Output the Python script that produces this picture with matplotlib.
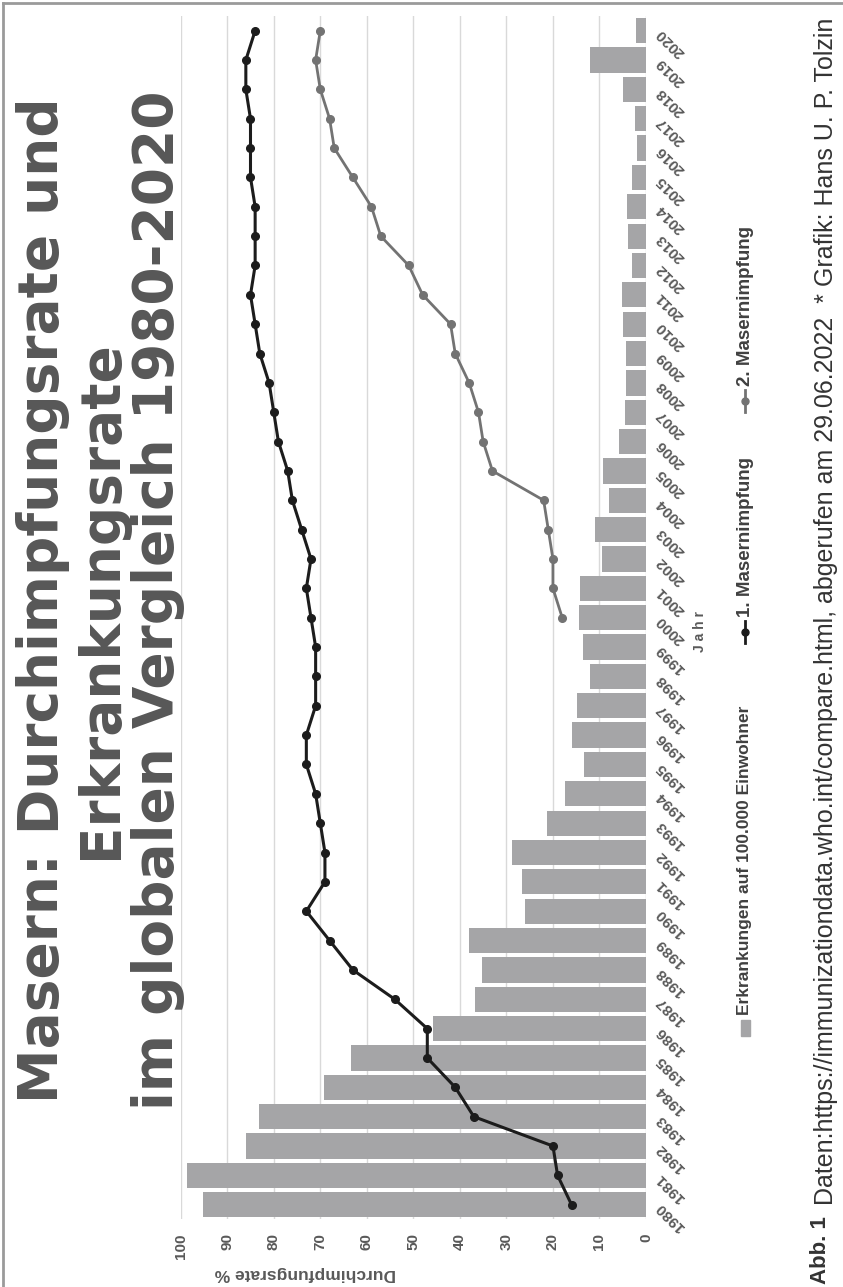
import numpy as np
import matplotlib
matplotlib.use('Agg')
import matplotlib.pyplot as plt
from matplotlib.lines import Line2D
from matplotlib.patches import Rectangle

plt.rcParams['font.family'] = ['Liberation Sans', 'DejaVu Sans']

years = list(range(1980, 2021))
incidence = [95.1, 98.6, 86.0, 83.2, 69.1, 63.4, 45.8, 36.8, 35.3, 38.0,
             26.1, 26.6, 28.7, 21.3, 17.4, 13.4, 15.8, 14.8, 12.0, 13.6,
             14.5, 14.2, 9.5, 11.0, 8.0, 9.3, 5.8, 4.5, 4.3, 4.2,
             5.0, 5.2, 3.1, 3.9, 4.1, 3.0, 1.9, 2.4, 4.9, 12.0, 2.1]
mcv1 = [16, 19, 20, 37, 41, 47, 47, 54, 63, 68,
        73, 69, 69, 70, 71, 73, 73, 71, 71, 71,
        72, 73, 72, 74, 76, 77, 79, 80, 81, 83,
        84, 85, 84, 84, 84, 85, 85, 85, 86, 86, 84]
mcv2 = [None] * 20 + [18, 20, 20, 21, 22, 33, 35, 36, 38, 41,
                      42, 48, 51, 57, 59, 63, 67, 68, 70, 71, 70]
value_ticks = list(range(0, 101, 10))

title_lines = ["Masern: Durchimpfungsrate und", "Erkrankungsrate",
               "im globalen Vergleich 1980-2020"]
legend_labels = ["Erkrankungen auf 100.000 Einwohner", "1. Masernimpfung",
                 "2. Masernimpfung"]
footer = ("Daten:https://immunizationdata.who.int/compare.html, abgerufen am "
          "29.06.2022  * Grafik: Hans U. P. Tolzin")

W, H = 843, 1287
fig = plt.figure(figsize=(W / 100, H / 100), dpi=100)
fig.patch.set_facecolor('white')


def fx(x):
    return x / W


def fy(y):
    return 1 - y / H


BAR = '#a5a5a7'
L1 = '#1c1c1c'
L2 = '#737373'
TXT = '#595959'

ax = fig.add_axes([fx(180.7), fy(1219.4), (646 - 180.7) / W, (1219.4 - 16) / H])
ax.barh(years, incidence, height=0.86, color=BAR, zorder=2)
ax.plot(mcv1, years, color=L1, lw=2.2, marker='o', ms=5.5, zorder=4)
ax.plot(np.array(mcv2, dtype=float), years, color=L2, lw=2.0, marker='o',
        ms=5.5, zorder=3)
ax.set_xlim(100, 0)
ax.set_ylim(1979.5, 2020.5)
ax.set_xticks(value_ticks)
ax.set_xticklabels([str(v) for v in value_ticks], rotation=90, fontsize=11,
                   fontweight='bold', color=TXT)
ax.tick_params(axis='x', length=0, pad=10)
ax.grid(axis='x', color='#d9d9d9', lw=1.0, zorder=0)
for s in ax.spines.values():
    s.set_visible(False)
ax.yaxis.tick_right()
ax.set_yticks(years)
ax.set_yticklabels([str(y) for y in years], rotation=135, rotation_mode='anchor',
                   ha='right', va='center', fontsize=11, fontweight='bold',
                   color=TXT)
ax.tick_params(axis='y', length=0, pad=9)

# axis titles
fig.text(fx(305), fy(1274), "Durchimpfungsrate %", rotation=180, ha='center',
         va='center', fontsize=12.5, fontweight='bold', color=TXT)
fig.text(fx(700), fy(632), "J a h r", rotation=90, ha='center', va='center',
         fontsize=10, fontweight='bold', color=TXT)

# title
for xpos, line in zip([43, 101, 158], title_lines):
    fig.text(fx(xpos), fy(600), line, rotation=90, ha='center', va='center',
             fontsize=39.5, fontweight='bold', color='#575757',
             family='DejaVu Sans')

# legend (manual, rotated)
lx = 745
fig.patches.append(Rectangle((fx(741), fy(1036)), 9 / W, 16 / H,
                             transform=fig.transFigure, color=BAR))
fig.text(fx(lx), fy(1015), legend_labels[0], rotation=90, ha='center',
         va='bottom', fontsize=12.5, fontweight='bold', color='#404040')
fig.lines.append(Line2D([fx(lx), fx(lx)], [fy(643), fy(621)], color=L1, lw=2,
                        transform=fig.transFigure))
fig.lines.append(Line2D([fx(lx)], [fy(632)], color=L1, marker='o', ms=5,
                        transform=fig.transFigure))
fig.text(fx(lx), fy(617), legend_labels[1], rotation=90, ha='center',
         va='bottom', fontsize=13.5, fontweight='bold', color='#404040')
fig.lines.append(Line2D([fx(lx), fx(lx)], [fy(412), fy(390)], color=L2, lw=2,
                        transform=fig.transFigure))
fig.lines.append(Line2D([fx(lx)], [fy(401)], color=L2, marker='o', ms=5,
                        transform=fig.transFigure))
fig.text(fx(lx), fy(386), legend_labels[2], rotation=90, ha='center',
         va='bottom', fontsize=13.5, fontweight='bold', color='#404040')

# footer
fig.text(fx(826), fy(1205), footer, rotation=90, ha='center', va='bottom',
         fontsize=18, color='#333333')
fig.text(fx(820), fy(1284), "Abb. 1", rotation=90, ha='center', va='bottom',
         fontsize=16, fontweight='bold', color='#333333')

# frame
fig.lines.append(Line2D([fx(3), fx(3)], [fy(1287), fy(3)], color='#9a9a9a',
                        lw=2, transform=fig.transFigure))
fig.lines.append(Line2D([fx(3), fx(843)], [fy(3), fy(3)], color='#9a9a9a',
                        lw=2, transform=fig.transFigure))

fig.savefig('out.png', dpi=100, facecolor='white')
